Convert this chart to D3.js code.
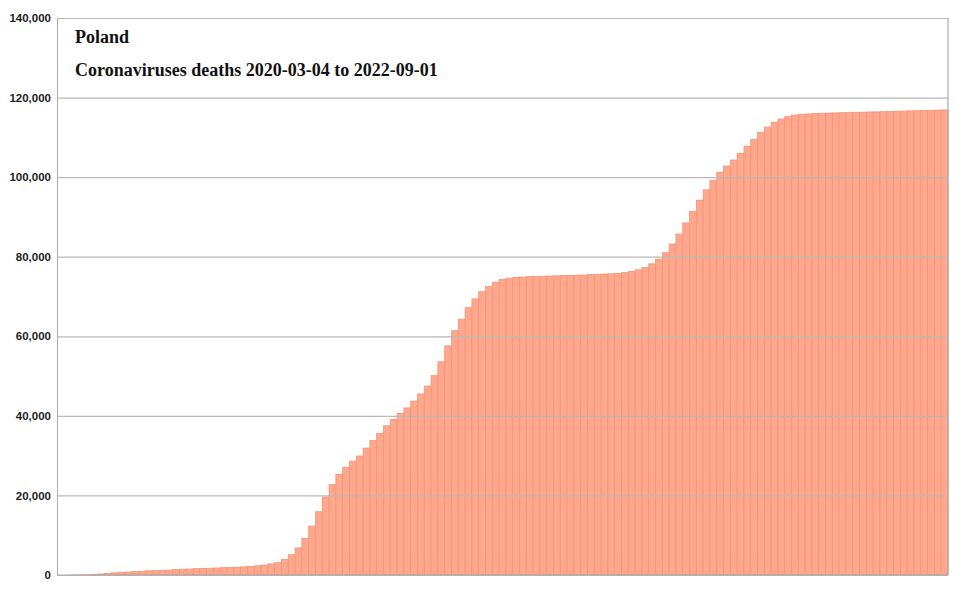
<!DOCTYPE html>
<html><head><meta charset="utf-8">
<script src="https://cdn.jsdelivr.net/npm/d3@7"></script>
<style>body{margin:0;background:#fff}</style>
</head><body><svg id="c" width="956" height="603"></svg>
<script>
// weekly cumulative deaths, starting 2020-03-04
const weekStarts = d3.range(131).map(i => d3.timeDay.offset(new Date(2020,2,4), i*7));
const deaths = [
0,0,5,20,80, 150,250,400,550, 650,750,850,950,1050, 1100,1150,1250,1350,
1450,1500,1600,1650, 1700,1750,1850,1900,1950, 2050,2150,2300,2500,
2800,3100,3900,5100,6800,9200,12300,15900,19600,22700,25300,27100,28600,
29900,31900,33800,35600,37500,39100,40600,42000,43700,45500,47500,50100,53600,
57600,61400,64300,67200,69400,71200,72500,73600,74300,74600,74800,74900,
75000,75050,75100,75150,75200,75250,75300,75350,75400,75500,
75550,75650,75700,75800,76000,76300,76700,77300,78200,79400,81000,83200,
85700,88500,91400,94200,96800,99200,101200,102800,104300,106000,107800,109500,
111200,112600,113800,114600,115200,115600,115800,115900,
116000,116050,116100,116150,116200,116250,116300,116330,116370,116400,
116450,116500,116550,116600,116650,116700,116750,116800,116850,116900
];
const yTicks = [0,20000,40000,60000,80000,100000,120000,140000];
const titleLines = ["Poland","Coronaviruses deaths 2020-03-04 to 2022-09-01"];

const svg = d3.select("#c");
const L=57,R=948,T=18,B=575;
const x = d3.scaleBand().domain(d3.range(deaths.length)).range([L,R]).padding(0);
const y = d3.scaleLinear().domain([0,140000]).range([B,T]);

svg.append("g").selectAll("rect").data(deaths).join("rect")
  .attr("x",(d,i)=>x(i)).attr("width",x.bandwidth())
  .attr("y",d=>y(d)).attr("height",d=>B-y(d))
  .attr("fill","#ffa78d").attr("stroke","#f39479").attr("stroke-width",0.8);

const ax = svg.append("g").attr("transform",`translate(${L},0)`)
  .call(d3.axisLeft(y).tickValues(yTicks).tickSize(-(R-L)).tickFormat(d3.format(",")).tickPadding(6));
ax.select(".domain").attr("stroke","#aaa");
ax.selectAll(".tick line").attr("stroke","#b8b8b8").attr("stroke-width",1.2);
ax.selectAll(".tick text").attr("font-family","Liberation Sans, Arial").attr("font-size",11.5)
  .attr("font-weight","bold").attr("fill","#222");
svg.append("line").attr("x1",R).attr("x2",R).attr("y1",T).attr("y2",B).attr("stroke","#aaa").attr("stroke-width",1.2);
svg.append("line").attr("x1",L).attr("x2",R).attr("y1",B).attr("y2",B).attr("stroke","#aaa").attr("stroke-width",1.2);

svg.selectAll("text.t").data(titleLines).join("text").attr("class","t")
  .attr("x",75).attr("y",(d,i)=>43+i*33)
  .attr("font-family","Liberation Serif, serif").attr("font-weight","bold")
  .attr("font-size",18).attr("fill","#111").text(d=>d);
</script></body></html>
